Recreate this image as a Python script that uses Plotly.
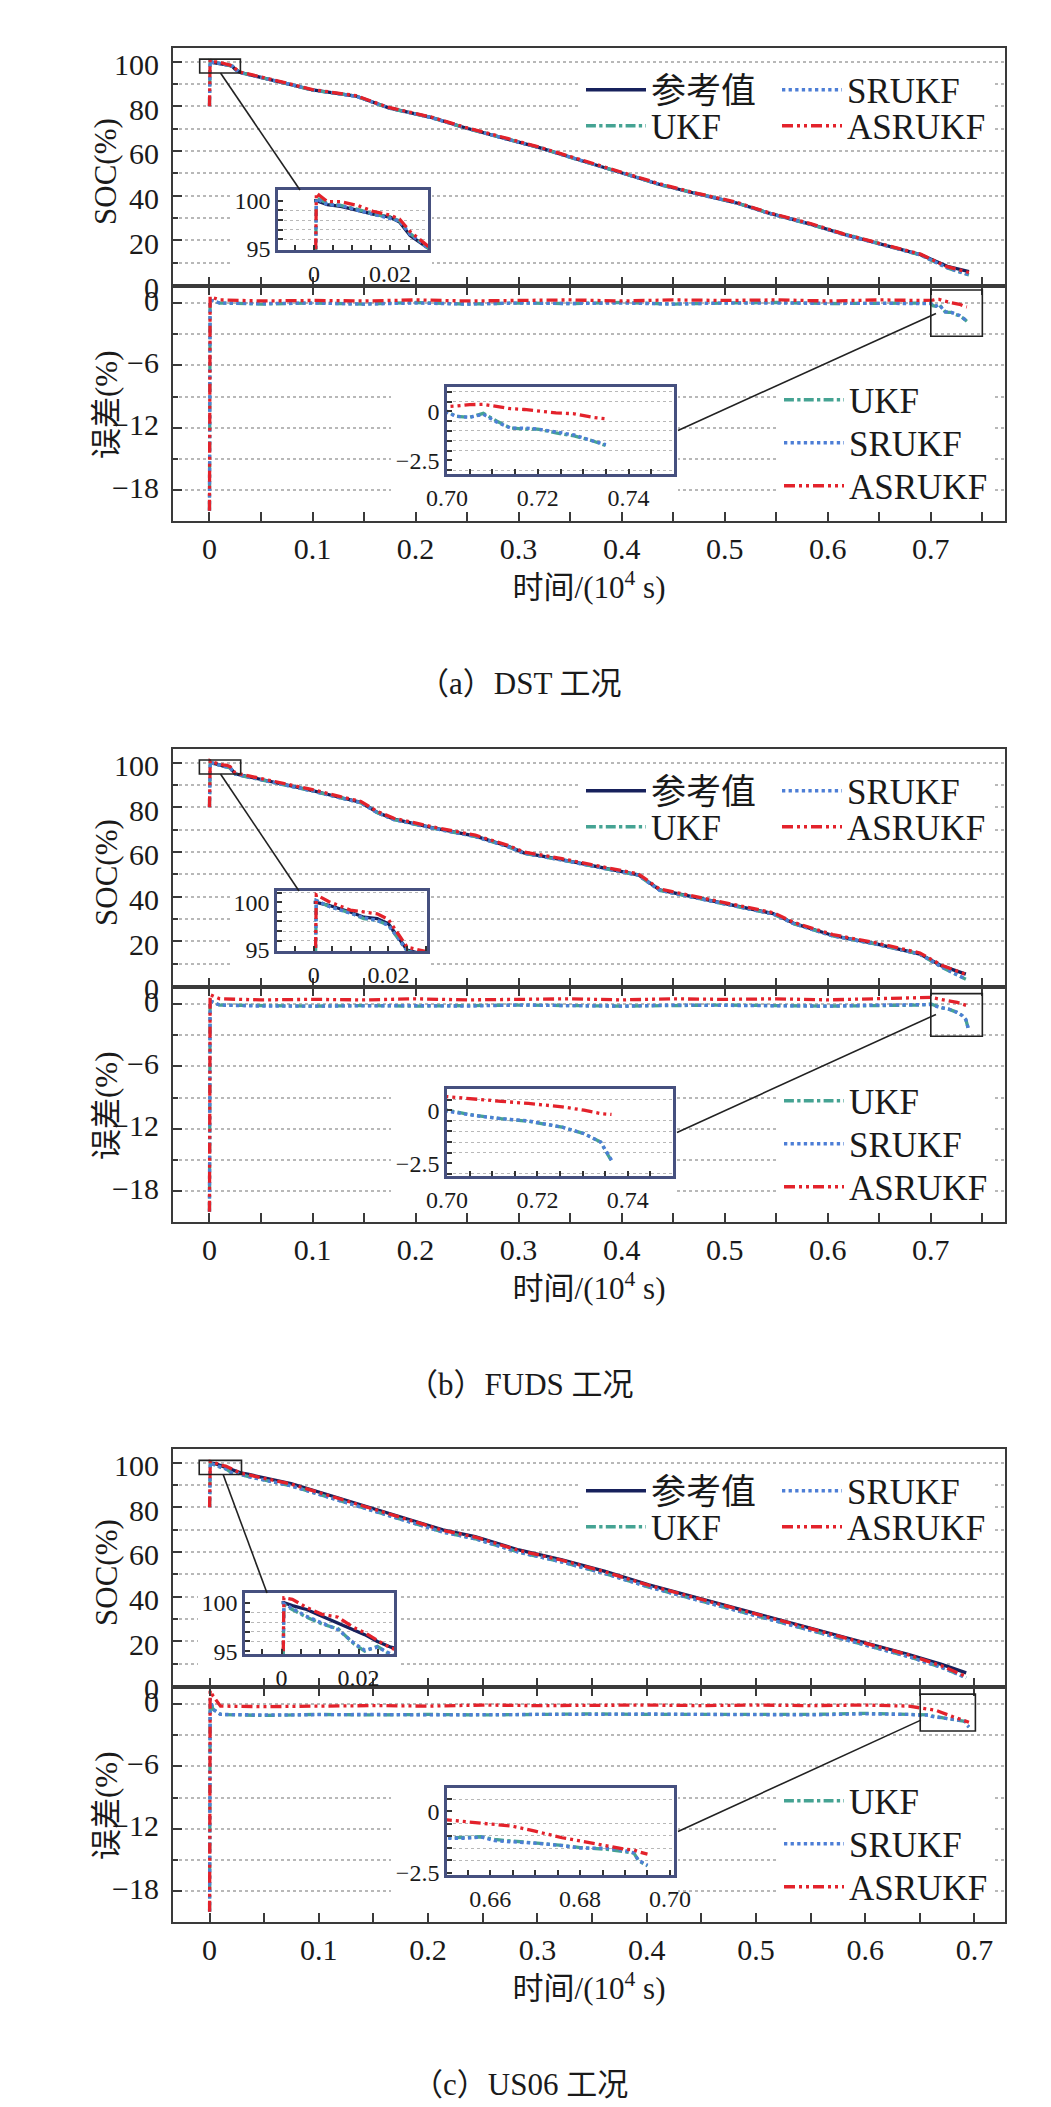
import plotly.graph_objects as go

W, H = 1051, 2107
FONT = "Liberation Serif, 'Times New Roman', 'Noto Sans CJK SC', serif"

# ---------------- data ----------------
names = ["参考值", "UKF", "SRUKF", "ASRUKF"]

# (a) DST
t_soc_a = [0, 0.0006, 0.0035, 0.0070, 0.0115, 0.0155, 0.0200, 0.0225, 0.0253, 0.0279, 0.0300,
           0.074, 0.100, 0.142, 0.174, 0.216, 0.248, 0.290, 0.321, 0.363, 0.395, 0.437, 0.469,
           0.511, 0.542, 0.584, 0.616, 0.658, 0.690, 0.716, 0.737]
ref_soc_a = [100, 100, 99.6, 99.4, 99.0, 98.6, 98.3, 97.8, 96.4, 95.7, 95.1, 90.3, 87.3, 84.6, 79.3,
             74.9, 70.4, 65.2, 61.4, 55.4, 51.0, 45.0, 41.3, 36.8, 32.3, 27.1, 22.6, 17.4, 13.6, 8.4, 6.0]
ukf_soc_a = [80, 100.3, 99.7, 99.5, 99.1, 98.6, 98.3, 97.9, 96.6, 95.8, 95.1, 90.3, 87.2, 84.6, 79.2,
             74.9, 70.3, 65.2, 61.4, 55.3, 51.0, 44.9, 41.3, 36.8, 32.3, 27.0, 22.6, 17.4, 13.4, 7.6, 4.5]
srukf_soc_a = [80, 100.2, 99.6, 99.5, 99.0, 98.6, 98.2, 97.9, 96.5, 95.8, 95.0, 90.3, 87.3, 84.5, 79.3,
               74.8, 70.4, 65.1, 61.4, 55.4, 50.9, 45.0, 41.2, 36.8, 32.2, 27.1, 22.5, 17.4, 13.5, 7.7, 4.6]
asrukf_soc_a = [80, 100.8, 99.9, 99.9, 99.5, 98.9, 98.5, 98.1, 96.8, 96.0, 95.3, 90.5, 87.5, 84.8, 79.5,
                75.1, 70.6, 65.5, 61.6, 55.7, 51.2, 45.3, 41.5, 37.1, 32.5, 27.4, 22.8, 17.7, 13.8, 8.2, 5.6]
t_err_a = [0, 0.0006, 0.01, 0.05, 0.1, 0.15, 0.2, 0.25, 0.3, 0.35, 0.4, 0.45, 0.5, 0.55, 0.6, 0.65, 0.69,
           0.700, 0.702, 0.705, 0.708, 0.711, 0.714, 0.717, 0.720, 0.724, 0.728, 0.732, 0.735]
ukf_err_a = [-20, 0.3, 0.0, -0.1, 0.0, -0.1, 0.05, -0.1, 0.0, -0.05, 0.05, -0.1, 0.0, 0.05, -0.05, 0.0, 0.05,
             0.0, -0.25, -0.3, -0.1, -0.5, -0.85, -0.9, -0.9, -1.1, -1.25, -1.5, -1.75]
srukf_err_a = [-20, 0.3, 0.0, -0.05, 0.0, -0.1, 0.0, -0.1, 0.0, -0.05, 0.0, -0.1, 0.0, 0.0, -0.05, 0.0, 0.0,
               -0.05, -0.25, -0.3, -0.15, -0.55, -0.85, -0.85, -0.9, -1.05, -1.2, -1.5, -1.7]
asrukf_err_a = [-20, 0.6, 0.3, 0.2, 0.25, 0.2, 0.3, 0.2, 0.25, 0.3, 0.2, 0.3, 0.25, 0.3, 0.2, 0.3, 0.25,
                0.25, 0.28, 0.35, 0.36, 0.25, 0.14, 0.1, 0.02, -0.07, -0.12, -0.3, -0.38]

# (b) FUDS
t_soc_b = [0, 0.0007, 0.0040, 0.0098, 0.0134, 0.0170, 0.0200, 0.0229, 0.0250, 0.0317, 0.0633, 0.100,
           0.126, 0.147, 0.163, 0.179, 0.216, 0.258, 0.2895, 0.305, 0.342, 0.384, 0.416, 0.437, 0.468,
           0.511, 0.547, 0.568, 0.605, 0.647, 0.6895, 0.7106, 0.734]
ref_soc_b = [100, 100, 99.7, 99.0, 98.45, 98.3, 97.75, 96.15, 95.0, 94.3, 91.3, 87.5, 84.5, 82.2, 77.7,
             74.7, 70.9, 67.1, 62.6, 59.6, 56.6, 52.8, 49.8, 43.0, 40.0, 36.2, 32.4, 27.9, 22.6, 18.9,
             14.3, 9.0, 5.3]
ukf_soc_b = [80, 100.2, 99.6, 98.9, 98.3, 98.1, 97.6, 96.0, 94.9, 94.1, 91.1, 87.3, 84.3, 82.0, 77.5,
             74.5, 70.7, 66.9, 62.4, 59.4, 56.4, 52.6, 49.6, 42.8, 39.8, 36.0, 32.2, 27.7, 22.4, 18.7,
             14.2, 8.4, 3.0]
srukf_soc_b = [80, 100.2, 99.6, 98.9, 98.4, 98.1, 97.6, 96.1, 94.9, 94.2, 91.1, 87.3, 84.3, 82.0, 77.5,
               74.5, 70.7, 66.9, 62.4, 59.4, 56.4, 52.6, 49.6, 42.8, 39.8, 36.0, 32.2, 27.7, 22.4, 18.7,
               14.2, 8.5, 3.1]
asrukf_soc_b = [80, 100.8, 100.1, 99.2, 99.0, 98.8, 98.2, 96.6, 95.3, 94.7, 91.7, 87.9, 84.9, 82.6, 78.1,
                75.1, 71.3, 67.5, 63.0, 60.0, 57.0, 53.2, 50.2, 43.4, 40.4, 36.6, 32.8, 28.3, 23.0, 19.3,
                14.8, 9.3, 5.2]
t_err_b = [0, 0.0006, 0.01, 0.05, 0.1, 0.15, 0.2, 0.25, 0.3, 0.35, 0.4, 0.45, 0.5, 0.55, 0.6, 0.65, 0.69,
           0.700, 0.706, 0.712, 0.718, 0.7255, 0.7303, 0.734, 0.7364]
ukf_err_b = [-20, 0.3, -0.1, -0.15, -0.2, -0.15, -0.2, -0.15, -0.1, -0.15, -0.2, -0.15, -0.1, -0.15, -0.2,
             -0.15, -0.1, 0.0, -0.24, -0.4, -0.52, -0.8, -1.1, -1.5, -2.4]
srukf_err_b = [-20, 0.3, -0.1, -0.2, -0.2, -0.15, -0.15, -0.2, -0.1, -0.15, -0.2, -0.1, -0.15, -0.15, -0.2,
               -0.1, -0.1, -0.05, -0.25, -0.4, -0.5, -0.8, -1.1, -1.5, -2.35]
asrukf_err_b = [-20, 0.9, 0.5, 0.4, 0.45, 0.4, 0.5, 0.4, 0.45, 0.5, 0.4, 0.5, 0.45, 0.5, 0.4, 0.5, 0.55,
                0.64, 0.52, 0.42, 0.32, 0.16, 0.0, -0.16, -0.2]

# (c) US06
t_soc_c = [0, 0.0006, 0.0028, 0.0065, 0.0105, 0.0147, 0.0189, 0.0216, 0.0249, 0.0284, 0.0348, 0.0745,
           0.109, 0.144, 0.179, 0.2135, 0.243, 0.283, 0.3226, 0.362, 0.402, 0.4418, 0.4815, 0.521, 0.561,
           0.6006, 0.640, 0.670, 0.6925]
ref_soc_c = [100, 100, 99.7, 99.3, 98.6, 97.9, 97.2, 96.7, 96.0, 95.4, 94.8, 90.6, 85.5, 80.2, 75.0, 69.9,
             66.9, 60.9, 56.5, 51.3, 45.3, 40.1, 34.9, 29.7, 24.5, 19.3, 14.1, 9.7, 5.9]
ukf_soc_c = [80, 99.8, 99.3, 98.5, 97.8, 97.3, 95.7, 95.0, 95.5, 94.6, 93.8, 89.6, 84.5, 79.2, 74.0, 68.9,
             65.9, 59.9, 55.5, 50.3, 44.3, 39.1, 33.9, 28.7, 23.5, 18.4, 13.1, 8.3, 3.7]
srukf_soc_c = [80, 99.9, 99.4, 98.6, 97.9, 97.2, 95.8, 95.1, 95.4, 94.7, 93.8, 89.6, 84.5, 79.2, 74.0, 68.9,
               65.9, 59.9, 55.5, 50.3, 44.3, 39.1, 33.9, 28.7, 23.5, 18.4, 13.1, 8.3, 3.7]
asrukf_soc_c = [80, 100.5, 100.35, 99.5, 98.8, 98.5, 97.4, 96.9, 96.1, 95.3, 94.6, 90.4, 85.3, 80.0, 74.8,
                69.7, 66.7, 60.7, 56.3, 51.1, 45.1, 39.9, 34.7, 29.5, 24.3, 19.1, 13.9, 9.0, 4.2]
t_err_c = [0, 0.0005, 0.003, 0.01, 0.05, 0.1, 0.15, 0.2, 0.25, 0.3, 0.35, 0.4, 0.45, 0.5, 0.55, 0.6, 0.64,
           0.651, 0.655, 0.658, 0.661, 0.665, 0.670, 0.676, 0.680, 0.686, 0.690, 0.692, 0.693, 0.695]
ukf_err_c = [-20, 0.5, -0.5, -1.0, -1.1, -1.0, -1.05, -1.0, -1.05, -1.0, -0.95, -1.0, -1.0, -0.95, -1.0,
             -0.9, -1.0, -1.08, -1.06, -1.04, -1.15, -1.21, -1.28, -1.39, -1.48, -1.55, -1.65, -1.71, -2.02, -2.23]
srukf_err_c = [-20, 0.5, -0.5, -1.0, -1.05, -1.0, -1.0, -1.05, -1.0, -1.0, -1.0, -0.95, -1.0, -1.0, -1.05,
               -0.95, -1.0, -1.1, -1.1, -1.05, -1.2, -1.25, -1.3, -1.4, -1.5, -1.5, -1.6, -1.7, -2.0, -2.2]
asrukf_err_c = [-20, 1.3, 0.8, -0.2, -0.25, -0.2, -0.15, -0.2, -0.1, -0.15, -0.1, -0.1, -0.15, -0.1, -0.15,
                -0.1, -0.2, -0.36, -0.44, -0.5, -0.54, -0.61, -0.81, -1.08, -1.21, -1.42, -1.55, -1.58, -1.65, -1.75]

captions = ["（a）DST 工况", "（b）FUDS 工况", "（c）US06 工况"]
soc_title = "SOC(%)"
err_title = "误差(%)"
time_title = "时间/(10<sup>4</sup> s)"

# ---------------- styles / geometry ----------------
colors = {"参考值": "#17215c", "UKF": "#45a393", "SRUKF": "#4d7ed6", "ASRUKF": "#e3222b"}
dashes = {"参考值": "solid", "UKF": "dashdot", "SRUKF": "dot", "ASRUKF": "11px,4px,3px,4px,3px,4px"}
LW = 3.3
AXC = "#3a3a3a"
INSC = "#46507f"
GRID = "#b8b8b8"
BODY = 8  # default page margin of the html body

PX_L, PX_R = 173, 1005
SOC_T, MID, ERR_B = 48, 286, 521
SOC_R = [-0.45, 106.1]
ERR_R = [-20.98, 1.64]

# legend slots (panel-relative px: left x of legend box, row centre y)
soc_leg_pos = {"参考值": (581, 90), "UKF": (581, 126), "SRUKF": (777, 90), "ASRUKF": (777, 126)}
err_leg_pos = {"UKF": (779, 400), "SRUKF": (779, 443), "ASRUKF": (779, 486)}

panels = [
    dict(dy=0, xr=[-0.0354, 0.772],
         t_soc=t_soc_a, soc=[ref_soc_a, ukf_soc_a, srukf_soc_a, asrukf_soc_a],
         t_err=t_err_a, err=[ukf_err_a, srukf_err_a, asrukf_err_a],
         isx=[-0.0095, 0.030], isy=[94.9, 101.1], isbox=(278, 428, 190, 250),
         iex=[0.70, 0.75], iey=[-3.2, 1.25], iebox=(447, 674, 387, 474), ie_t0=0.70,
         c_soc=0.0107, c_err=(0.705, -1.0)),
    dict(dy=701, xr=[-0.0354, 0.772],
         t_soc=t_soc_b, soc=[ref_soc_b, ukf_soc_b, srukf_soc_b, asrukf_soc_b],
         t_err=t_err_b, err=[ukf_err_b, srukf_err_b, asrukf_err_b],
         isx=[-0.0098, 0.0303], isy=[94.9, 101.2], isbox=(277, 427, 190, 250),
         iex=[0.70, 0.75], iey=[-3.1, 1.0], iebox=(447, 673, 388, 475), ie_t0=0.70,
         c_soc=0.0107, c_err=(0.705, -1.0)),
    dict(dy=1401, xr=[-0.0335, 0.728],
         t_soc=t_soc_c, soc=[ref_soc_c, ukf_soc_c, srukf_soc_c, asrukf_soc_c],
         t_err=t_err_c, err=[ukf_err_c, srukf_err_c, asrukf_err_c],
         isx=[-0.0095, 0.0292], isy=[94.7, 101.0], isbox=(245, 394, 192, 253),
         iex=[0.6504, 0.7009], iey=[-2.6, 0.95], iebox=(447, 674, 387, 474), ie_t0=0.66,
         c_soc=0.0124, c_err=(0.651, -1.55)),
]


def xp(px):
    return (px - BODY) / W


def yp(py):
    return 1 - (py - BODY) / H


def nm(kind, i):
    return f"{kind}axis" if i == 1 else f"{kind}axis{i}"


def rf(kind, i):
    return kind if i == 1 else f"{kind}{i}"


def lg(i):
    return "legend" if i == 1 else f"legend{i}"


fig = go.Figure()
layout = dict(width=W, height=H, margin=dict(l=0, r=0, t=0, b=0, autoexpand=False),
              paper_bgcolor="white", plot_bgcolor="white",
              font=dict(family=FONT, color="#1a1a1a"), hovermode=False, showlegend=True)
shapes, annotations = [], []

tickfont = dict(family=FONT, size=30, color="#1a1a1a")
insfont = dict(family=FONT, size=24, color="#1a1a1a")
legfont = dict(family=FONT, size=35, color="#1a1a1a")


def add_mask(xa, ya, xs, ys):
    fig.add_trace(go.Scatter(x=[xs[0], xs[1], xs[1], xs[0], xs[0]], y=[ys[0], ys[0], ys[1], ys[1], ys[0]],
                             mode="lines", fill="toself", fillcolor="white",
                             line=dict(width=0, color="white"), showlegend=False, hoverinfo="skip",
                             xaxis=xa, yaxis=ya))


for p, P in enumerate(panels):
    dy = P["dy"]
    i_soc, i_err = 1 + 2 * p, 2 + 2 * p
    i_is, i_ie = 7 + 2 * p, 8 + 2 * p
    L0 = 7 * p
    xr = P["xr"]

    def dx2px(t):
        return PX_L + (t - xr[0]) / (xr[1] - xr[0]) * (PX_R - PX_L)

    def px2dx(px):
        return xr[0] + (px - PX_L) / (PX_R - PX_L) * (xr[1] - xr[0])

    def soc2px(v):
        return SOC_T + (SOC_R[1] - v) / (SOC_R[1] - SOC_R[0]) * (MID - SOC_T) + dy

    def px2soc(py):
        return SOC_R[1] - (py - SOC_T) / (MID - SOC_T) * (SOC_R[1] - SOC_R[0])

    def err2px(v):
        return MID + (ERR_R[1] - v) / (ERR_R[1] - ERR_R[0]) * (ERR_B - MID) + dy

    def px2err(py):
        return ERR_R[1] - (py - MID) / (ERR_B - MID) * (ERR_R[1] - ERR_R[0])

    # ---- white masks (hide main grid behind insets and legends) ----
    xs_, ys_ = rf("x", i_soc), rf("y", i_soc)
    xe_, ye_ = rf("x", i_err), rf("y", i_err)
    l, r, t, b = P["isbox"]
    add_mask(xs_, ys_, [px2dx(l - 47), px2dx(r + 4)], [px2soc(t - 6), px2soc(b + 28)])
    add_mask(xs_, ys_, [px2dx(578), px2dx(992)], [px2soc(68), px2soc(142)])
    l, r, t, b = P["iebox"]
    add_mask(xe_, ye_, [px2dx(l - 56), px2dx(r + 4)], [px2err(t - 7), px2err(b + 28)])
    add_mask(xe_, ye_, [px2dx(776), px2dx(992)], [px2err(376), px2err(508)])

    # ---- main SOC traces ----
    for k, name in enumerate(names):
        fig.add_trace(go.Scatter(x=P["t_soc"], y=P["soc"][k], mode="lines", name=name,
                                 line=dict(color=colors[name], width=LW, dash=dashes[name]),
                                 xaxis=xs_, yaxis=ys_, legend=lg(L0 + 1 + k)))
    # ---- main error traces ----
    for k, name in enumerate(names[1:]):
        fig.add_trace(go.Scatter(x=P["t_err"], y=P["err"][k], mode="lines", name=name,
                                 line=dict(color=colors[name], width=LW, dash=dashes[name]),
                                 xaxis=xe_, yaxis=ye_, legend=lg(L0 + 5 + k)))
    # ---- inset traces ----
    for k, name in enumerate(names):
        fig.add_trace(go.Scatter(x=P["t_soc"], y=P["soc"][k], mode="lines", name=name, showlegend=False,
                                 line=dict(color=colors[name], width=LW, dash=dashes[name]),
                                 xaxis=rf("x", i_is), yaxis=rf("y", i_is)))
    for k, name in enumerate(names[1:]):
        fig.add_trace(go.Scatter(x=P["t_err"], y=P["err"][k], mode="lines", name=name, showlegend=False,
                                 line=dict(color=colors[name], width=LW, dash=dashes[name]),
                                 xaxis=rf("x", i_ie), yaxis=rf("y", i_ie)))

    xdom = [xp(PX_L), xp(PX_R)]
    base = dict(showline=True, linecolor=AXC, linewidth=2.2, ticks="inside", tickcolor=AXC,
                tickwidth=1.6, zeroline=False, tickfont=tickfont, automargin=False)
    layout[nm("x", i_soc)] = dict(base, domain=xdom, range=xr, anchor=ys_, dtick=0.1, tick0=0,
                                  ticklen=9, showticklabels=False, mirror=True, showgrid=False,
                                  minor=dict(dtick=0.05, ticks="inside", ticklen=9, tickcolor=AXC))
    layout[nm("y", i_soc)] = dict(base, domain=[yp(MID + dy), yp(SOC_T + dy)], range=SOC_R,
                                  anchor=xs_, dtick=20, tick0=0, ticklen=9, mirror=True,
                                  ticklabelshift=3, ticklabelstandoff=6,
                                  showgrid=True, griddash="dot", gridcolor=GRID, gridwidth=1.5,
                                  minor=dict(dtick=10, ticks="inside", ticklen=5, tickcolor=AXC,
                                             showgrid=True, griddash="dot", gridcolor=GRID, gridwidth=1.5))
    layout[nm("x", i_err)] = dict(base, domain=xdom, range=xr, anchor=ye_, dtick=0.1, tick0=0,
                                  ticklen=9, mirror="ticks", showgrid=False,
                                  minor=dict(dtick=0.05, ticks="inside", ticklen=9, tickcolor=AXC),
                                  title=dict(text=time_title, font=dict(family=FONT, size=31),
                                             standoff=12))
    layout[nm("y", i_err)] = dict(base, domain=[yp(ERR_B + dy), yp(MID + dy)], range=ERR_R,
                                  anchor=xe_, dtick=6, tick0=0, ticklen=9, mirror=True,
                                  ticklabelshift=-3, ticklabelstandoff=6,
                                  showgrid=True, griddash="dot", gridcolor=GRID, gridwidth=1.5,
                                  minor=dict(dtick=3, ticks="inside", ticklen=5, tickcolor=AXC,
                                             showgrid=True, griddash="dot", gridcolor=GRID, gridwidth=1.5))
    # y-axis titles (placed like the reference, close to the tick labels)
    annotations.append(dict(text=soc_title, xref="paper", yref="paper", x=xp(106), y=yp(172 + dy),
                            textangle=-90, showarrow=False, xanchor="center", yanchor="middle",
                            font=dict(family=FONT, size=31, color="#1a1a1a")))
    annotations.append(dict(text=err_title, xref="paper", yref="paper", x=xp(106), y=yp(405 + dy),
                            textangle=-90, showarrow=False, xanchor="center", yanchor="middle",
                            font=dict(family=FONT, size=31, color="#1a1a1a")))

    # ---- inset axes ----
    ib = dict(showline=True, linecolor=INSC, linewidth=2.6, mirror=True, ticks="inside", tickcolor="#333",
              tickwidth=1.5, ticklen=5, zeroline=False, tickfont=insfont, automargin=False)
    l, r, t, b = P["isbox"]
    layout[nm("x", i_is)] = dict(ib, domain=[xp(l), xp(r)], range=P["isx"], anchor=rf("y", i_is),
                                 dtick=0.02, tick0=0, showgrid=False,
                                 minor=dict(dtick=0.005, ticks="inside", ticklen=5, tickcolor="#333"))
    layout[nm("y", i_is)] = dict(ib, domain=[yp(b + dy), yp(t + dy)], range=P["isy"], anchor=rf("x", i_is),
                                 dtick=5, tick0=0, showgrid=False,
                                 minor=dict(dtick=1, ticks="inside", ticklen=5, tickcolor="#333",
                                            showgrid=True, griddash="dot", gridcolor=GRID, gridwidth=1.2))
    shapes.append(dict(type="rect", xref=xs_, yref=ys_,
                       x0=P["isx"][0], x1=P["isx"][1], y0=P["isy"][0], y1=P["isy"][1],
                       line=dict(color="#222", width=1.6)))
    shapes.append(dict(type="line", xref="paper", yref="paper",
                       x0=xp(dx2px(P["c_soc"])), y0=yp(soc2px(P["isy"][0])),
                       x1=xp(l + 22), y1=yp(t + dy), line=dict(color="#222", width=1.6)))

    l, r, t, b = P["iebox"]
    layout[nm("x", i_ie)] = dict(ib, domain=[xp(l), xp(r)], range=P["iex"], anchor=rf("y", i_ie),
                                 dtick=0.02, tick0=P["ie_t0"], tickformat=".2f", showgrid=False,
                                 minor=dict(dtick=0.005, ticks="inside", ticklen=5, tickcolor="#333"))
    layout[nm("y", i_ie)] = dict(ib, domain=[yp(b + dy), yp(t + dy)], range=P["iey"], anchor=rf("x", i_ie),
                                 dtick=2.5, tick0=0, showgrid=False,
                                 minor=dict(dtick=0.5, ticks="inside", ticklen=5, tickcolor="#333",
                                            showgrid=True, griddash="dot", gridcolor=GRID, gridwidth=1.2))
    shapes.append(dict(type="rect", xref=xe_, yref=ye_,
                       x0=P["iex"][0], x1=P["iex"][1], y0=P["iey"][0], y1=P["iey"][1],
                       line=dict(color="#222", width=1.6)))
    shapes.append(dict(type="line", xref="paper", yref="paper",
                       x0=xp(r + 4), y0=yp((t + b) / 2 + dy),
                       x1=xp(dx2px(P["c_err"][0])), y1=yp(err2px(P["c_err"][1])),
                       line=dict(color="#222", width=1.6)))

    # ---- legends (one entry each, transparent; grid hidden by masks) ----
    legbase = dict(bgcolor="rgba(0,0,0,0)", borderwidth=0, font=legfont, xanchor="left",
                   yanchor="middle", itemwidth=60, tracegroupgap=0)
    for k, name in enumerate(names):
        lx, ly = soc_leg_pos[name]
        layout[lg(L0 + 1 + k)] = dict(legbase, x=xp(lx), y=yp(ly + dy))
    for k, name in enumerate(names[1:]):
        lx, ly = err_leg_pos[name]
        layout[lg(L0 + 5 + k)] = dict(legbase, x=xp(lx), y=yp(ly + dy))

    annotations.append(dict(text=captions[p], xref="paper", yref="paper", x=xp(520), y=yp(683 + dy),
                            showarrow=False, xanchor="center", yanchor="middle",
                            font=dict(family=FONT, size=31, color="#1a1a1a")))

layout["shapes"] = shapes
layout["annotations"] = annotations
fig.update_layout(**layout)
fig.write_html("out.html")
